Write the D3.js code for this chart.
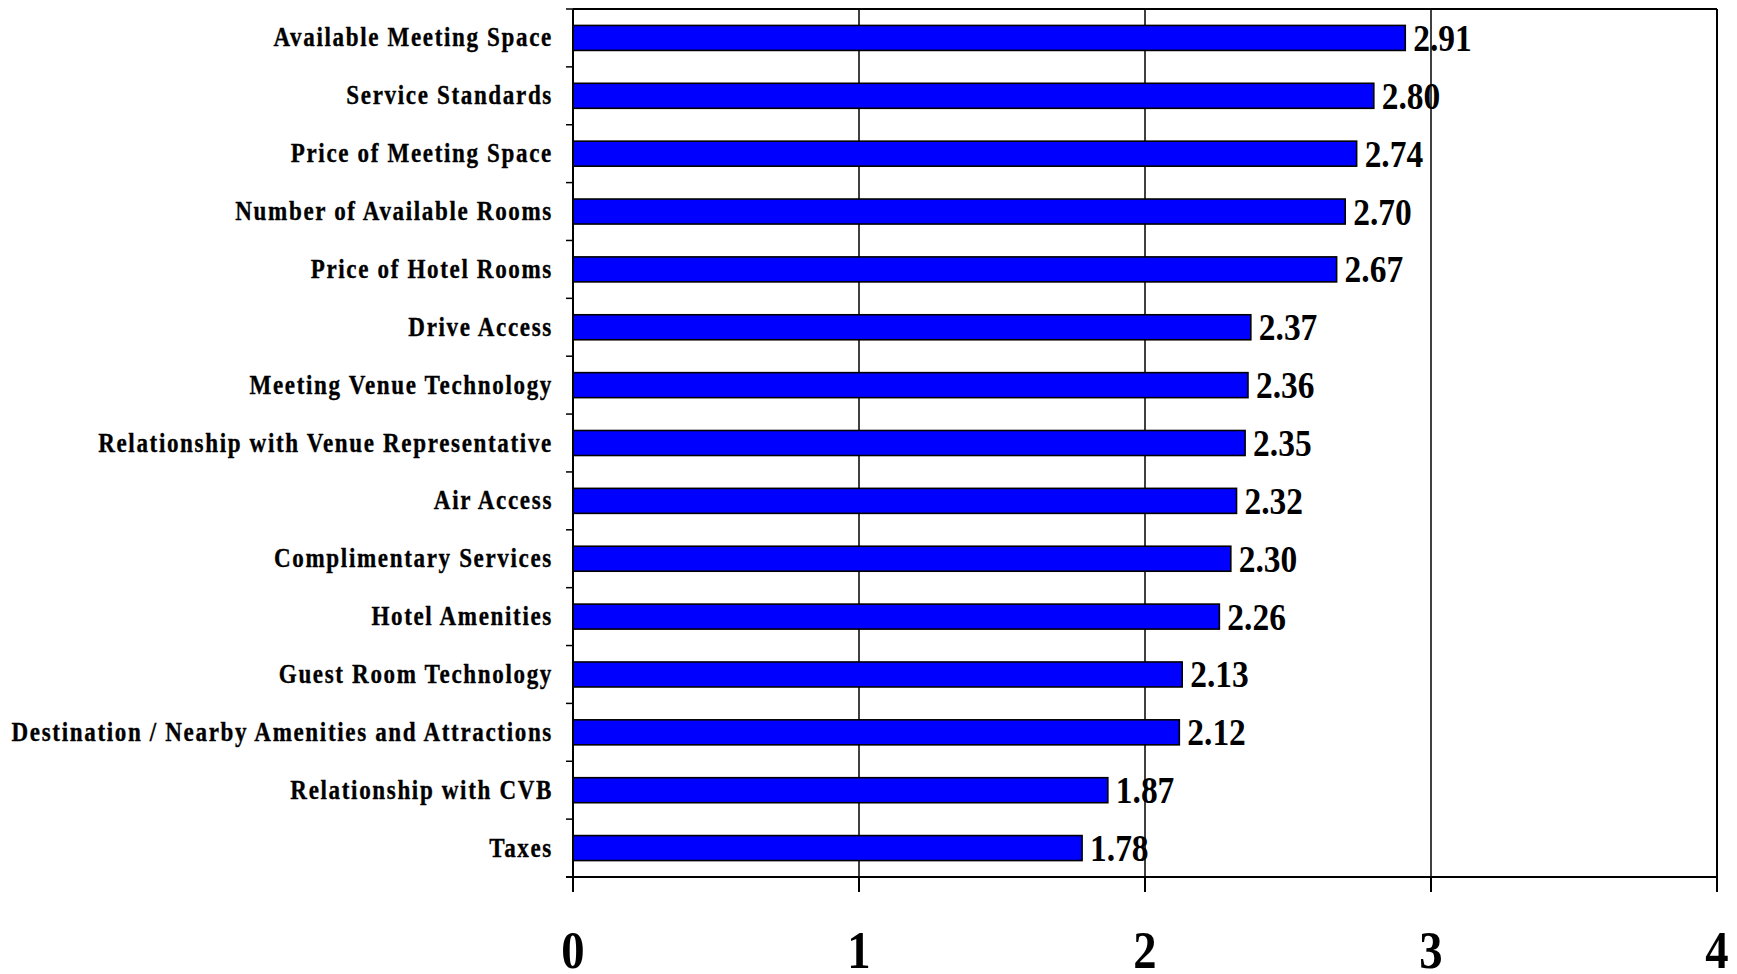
<!DOCTYPE html>
<html>
<head>
<meta charset="utf-8">
<script src="https://cdn.jsdelivr.net/npm/d3@7"></script>
<style>
  html, body { margin: 0; padding: 0; background: #fff; }
  svg { display: block; }
  text { font-family: "Liberation Serif", "Times New Roman", serif; font-weight: bold; fill: #000; }
</style>
</head>
<body>
<svg id="chart" width="1737" height="974"></svg>
<script>
const categories = [
  "Available Meeting Space",
  "Service Standards",
  "Price of Meeting Space",
  "Number of Available Rooms",
  "Price of Hotel Rooms",
  "Drive Access",
  "Meeting Venue Technology",
  "Relationship with Venue Representative",
  "Air Access",
  "Complimentary Services",
  "Hotel Amenities",
  "Guest Room Technology",
  "Destination / Nearby Amenities and Attractions",
  "Relationship with CVB",
  "Taxes"
];
const values = [2.91, 2.80, 2.74, 2.70, 2.67, 2.37, 2.36, 2.35, 2.32, 2.30, 2.26, 2.13, 2.12, 1.87, 1.78];
const xTicks = [0, 1, 2, 3, 4];

const margin = { left: 573, right: 20, top: 9, bottom: 97 };
const W = 1737, H = 974;
const svg = d3.select("#chart");

const x = d3.scaleLinear().domain([0, 4]).range([margin.left, W - margin.right]);
const y = d3.scaleBand().domain(categories)
  .range([margin.top, H - margin.bottom])
  .paddingInner(0.568).paddingOuter(0.284);

const x0 = x(0), x4 = x(4), yTop = margin.top, yBot = H - margin.bottom;
const step = y.step();

// gridlines
svg.append("g").selectAll("line").data(xTicks.filter(d => d > 0 && d < 4)).join("line")
  .attr("x1", d => x(d)).attr("x2", d => x(d))
  .attr("y1", yTop).attr("y2", yBot)
  .attr("stroke", "#000").attr("stroke-width", 1.5);

// frame (top and right)
svg.append("line").attr("x1", x0).attr("x2", x4).attr("y1", yTop).attr("y2", yTop)
  .attr("stroke", "#000").attr("stroke-width", 2);
svg.append("line").attr("x1", x4).attr("x2", x4).attr("y1", yTop).attr("y2", yBot)
  .attr("stroke", "#000").attr("stroke-width", 2);

// bars
svg.append("g").selectAll("rect").data(categories).join("rect")
  .attr("x", x0)
  .attr("y", d => y(d))
  .attr("width", (d, i) => x(values[i]) - x0)
  .attr("height", y.bandwidth())
  .attr("fill", "#0000FF")
  .attr("stroke", "#000")
  .attr("stroke-width", 1.6);

// left axis
svg.append("line").attr("x1", x0).attr("x2", x0).attr("y1", yTop).attr("y2", yBot)
  .attr("stroke", "#000").attr("stroke-width", 2);
const boundaries = d3.range(categories.length + 1).map(i => yTop + i * step);
svg.append("g").selectAll("line").data(boundaries).join("line")
  .attr("x1", x0 - 7).attr("x2", x0).attr("y1", d => d).attr("y2", d => d)
  .attr("stroke", "#000").attr("stroke-width", 1.5);

// bottom axis
svg.append("line").attr("x1", x0 - 7).attr("x2", x4).attr("y1", yBot).attr("y2", yBot)
  .attr("stroke", "#000").attr("stroke-width", 2);
svg.append("g").selectAll("line").data(xTicks).join("line")
  .attr("x1", d => x(d)).attr("x2", d => x(d)).attr("y1", yBot).attr("y2", yBot + 15)
  .attr("stroke", "#000").attr("stroke-width", 2);

// x tick labels
svg.append("g").selectAll("text").data(xTicks).join("text")
  .attr("transform", d => `translate(${x(d)},968) scale(0.88,1)`)
  .attr("text-anchor", "middle")
  .style("font-size", "53px")
  .text(d => d);

// category labels
svg.append("g").selectAll("text").data(categories).join("text")
  .attr("transform", d => `translate(553,${y(d) + y.bandwidth() / 2 + 8.5}) scale(0.87,1)`)
  .attr("text-anchor", "end")
  .style("font-size", "26.5px")
  .style("letter-spacing", "1.9px")
  .style("stroke", "#000")
  .style("stroke-width", "0.35px")
  .text(d => d);

// value labels
svg.append("g").selectAll("text").data(categories).join("text")
  .attr("transform", (d, i) => `translate(${x(values[i]) + 8},${y(d) + y.bandwidth() / 2 + 13}) scale(0.88,1)`)
  .attr("text-anchor", "start")
  .style("font-size", "38px")
  .text((d, i) => d3.format(".2f")(values[i]));
</script>
</body>
</html>
